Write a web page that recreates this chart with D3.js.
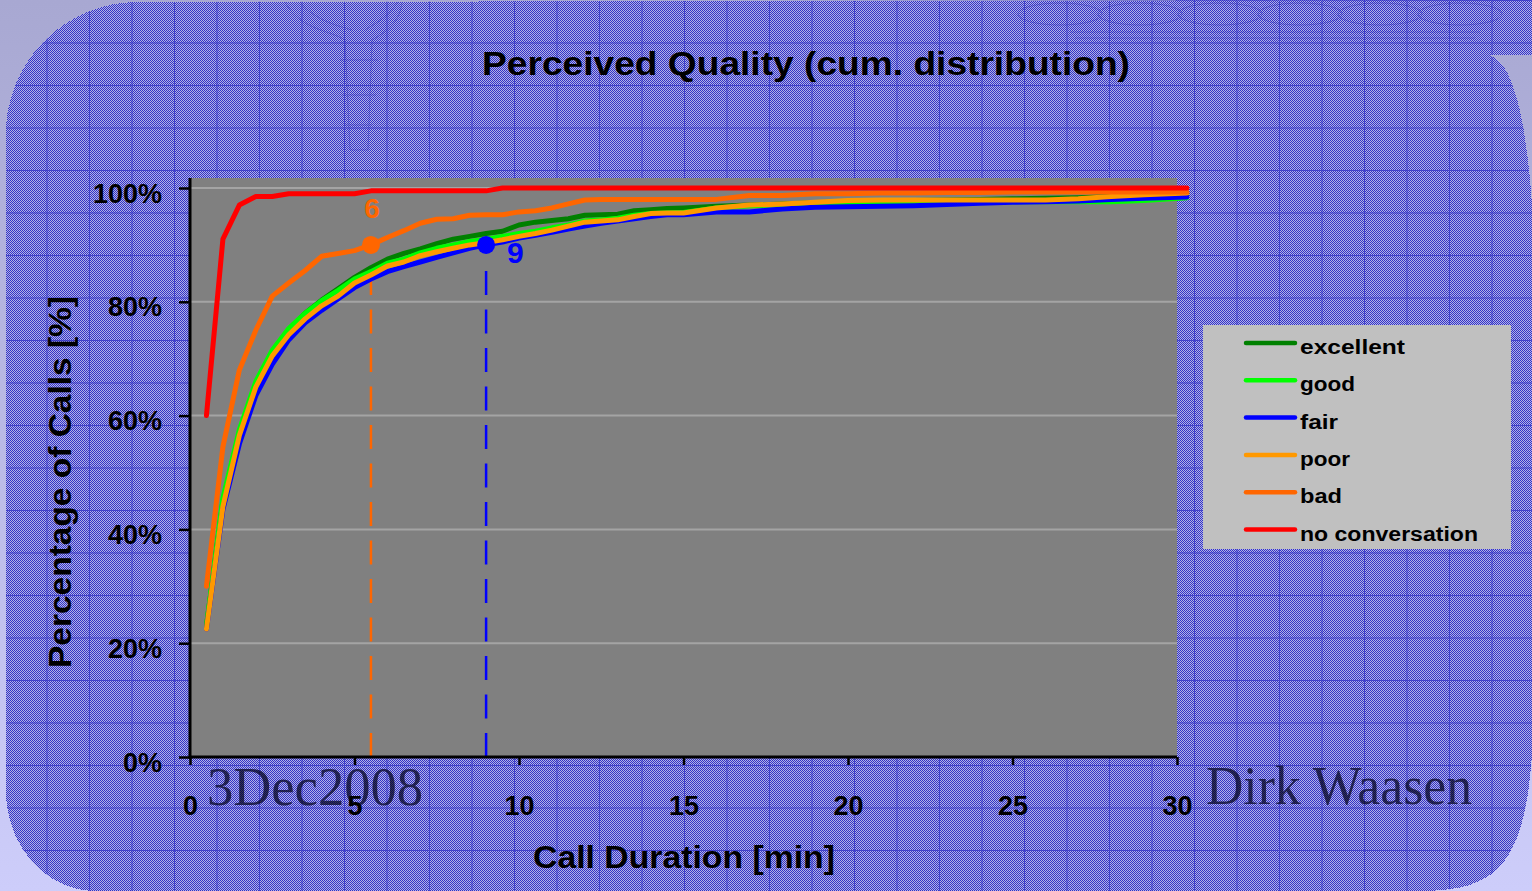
<!DOCTYPE html>
<html><head><meta charset="utf-8">
<script src="https://cdn.jsdelivr.net/npm/d3@7"></script>
<style>html,body{margin:0;padding:0;background:#aaaad4;overflow:hidden}</style>
</head><body><svg id="chart" width="1532" height="891"></svg>
<script>
// ---------------- data ----------------
const minutes = [0.5,1,1.5,2,2.5,3,3.5,4,4.5,5,5.5,6,6.5,7,7.5,8,8.5,9,9.5,10,10.5,11,11.5,12,12.5,13,13.5,14,14.5,15,16,17,18,19,20,21,22,23,24,25,26,27,28,29,30.3];
const excellent = [23,45,57,65.5,71,75,78,80.3,82.3,84.3,86,87.5,88.5,89.3,90.2,91,91.5,92,92.4,93.5,94,94.3,94.6,95.2,95.3,95.4,96,96.2,96.4,96.5,96.8,97,97.2,97.4,97.6,97.7,97.8,97.9,98,98.1,98.2,98.3,98.5,98.7,99];
const good      = [23,45.5,57.5,66,71.5,75.3,78,80.2,82,84,85.3,86.8,87.5,88.6,89.4,90,90.6,91,91.5,92,92.4,93,93.5,94.2,94.4,94.7,95.2,95.5,95.6,95.7,96.5,96.9,97.1,97.3,97.5,97.6,97.6,97.6,97.6,97.6,97.6,97.6,97.6,97.8,98.3];
const fair      = [22.5,43.5,55,63.5,69,73.3,76.3,78.5,80.5,82.5,84,85.3,86.2,87,87.8,88.6,89.4,90,90.5,91.2,91.7,92.2,92.8,93.3,93.8,94.2,94.6,95,95.3,95.3,95.8,95.8,96.3,96.6,96.7,96.8,96.9,97.1,97.3,97.5,97.6,97.7,98,98.2,98.4];
const poor      = [22.5,44,56.5,65,70.5,74.2,77,79.3,81,83.3,84.7,86.3,87,88.1,88.8,89.4,90,90.4,90.9,91.5,92,92.6,93.3,94,94.2,94.4,95,95.5,95.6,95.6,96.5,97,97.2,97.5,97.8,97.9,97.9,97.9,97.9,97.9,97.9,98.1,98.5,98.8,99.1];
const bad       = [30,54.5,68,75,81,83.3,85.5,88,88.5,89,90,91.3,92.5,93.8,94.5,94.6,95.2,95.3,95.3,95.8,96,96.5,97.2,97.9,98,98,98,98,98,98,98,98.7,98.7,99,99,99.1,99.1,99.2,99.2,99.3,99.3,99.3,99.3,99.3,99.3];
const noConversation = [60,91,97,98.5,98.5,99,99,99,99,99,99.5,99.5,99.5,99.5,99.5,99.5,99.5,99.5,100,100,100,100,100,100,100,100,100,100,100,100,100,100,100,100,100,100,100,100,100,100,100,100,100,100,100];

const seriesNames  = ["excellent","good","fair","poor","bad","no conversation"];
const seriesColors = ["#008000","#00ff00","#0000ff","#ff9900","#ff6600","#ff0000"];
const seriesValues = [excellent, good, fair, poor, bad, noConversation];
const legendTextWidths = [105, 55, 38, 50, 42, 178];

const xTicks = [0,5,10,15,20,25,30];
const yTicks = [0,20,40,60,80,100];
const gridTicks = [20,40,60,80,100];

const markerMinutes = [5.5, 9];
const markerPercent = [90, 90];
const markerLabels  = ["6", "9"];
const markerColors  = ["#ff6600", "#0000ff"];

const titleText = "Perceived Quality (cum. distribution)";
const xTitle = "Call Duration [min]";
const yTitle = "Percentage of Calls [%]";
const watermarkLeft = "3Dec2008";
const watermarkRight = "Dirk Waasen";

// ---------------- drawing ----------------
const W = 1532, H = 891;
const svg = d3.select("#chart");
const defs = svg.append("defs");
const FONT = "'Liberation Sans', Arial, sans-serif";

const og = defs.append("linearGradient").attr("id","outside").attr("x1",0).attr("y1",0).attr("x2",0).attr("y2",1);
og.append("stop").attr("offset","0%").attr("stop-color","#a8a8d2");
og.append("stop").attr("offset","100%").attr("stop-color","#cdcdfa");

const chk = defs.append("pattern").attr("id","checker").attr("patternUnits","userSpaceOnUse").attr("width",2).attr("height",2);
chk.append("rect").attr("width",2).attr("height",2).attr("fill","#b2b2e4");
chk.append("rect").attr("x",0).attr("y",0).attr("width",1).attr("height",1).attr("fill","#3232c8");
chk.append("rect").attr("x",1).attr("y",1).attr("width",1).attr("height",1).attr("fill","#3232c8");

const grd = defs.append("pattern").attr("id","bggrid").attr("patternUnits","userSpaceOnUse")
  .attr("width",42.5).attr("height",42.5).attr("x",4).attr("y",0);
grd.append("path").attr("d","M0,0.5 H42.5 M0.5,0 V42.5").attr("stroke","#3434c6").attr("stroke-width",1).attr("fill","none").attr("opacity",0.8);

svg.append("rect").attr("width",W).attr("height",H).attr("fill","url(#outside)");

const shape = "M6,140 A132,132 0 0 1 138,2 L1532,0 L1532,55 L1488,55 Q1526,62 1534,240 L1534,700 C1532,860 1505,891 1420,891 L95,891 A90,100 0 0 1 6,791 Z";
svg.append("path").attr("d",shape).attr("fill","url(#checker)").attr("shape-rendering","crispEdges");
svg.append("path").attr("d",shape).attr("fill","url(#bggrid)");

// faint decorative shapes at the top
const deco = svg.append("g").attr("fill","none").attr("stroke","#2a2ab8").attr("stroke-width",1).attr("opacity",0.35);
deco.append("path").attr("d","M285,2 C300,30 330,30 345,40 L350,150 L368,150 L372,40 C390,30 400,20 402,2");
deco.append("path").attr("d","M300,2 C315,20 335,25 352,30 M398,2 C385,20 372,25 365,30");
deco.append("path").attr("d","M340,60 L378,60 M342,95 L376,95 M345,125 L372,125");
[1060,1140,1220,1300,1380,1460].forEach(cx=>{
  deco.append("ellipse").attr("cx",cx).attr("cy",14).attr("rx",42).attr("ry",11);
});
deco.append("path").attr("d","M1070,32 H1480 M1075,38 H1475");

// scales
const x = d3.scaleLinear().domain([0,30]).range([190,1177]);
const y = d3.scaleLinear().domain([0,100]).range([757,188]);
const plotTop = y(100) - 10;

// plot background
svg.append("rect").attr("x",x(0)).attr("y",plotTop).attr("width",x(30)-x(0)).attr("height",y(0)-plotTop).attr("fill","#808080");

// gridlines
svg.append("g").selectAll("line").data(gridTicks).join("line")
  .attr("x1",x(0)).attr("x2",x(30)).attr("y1",d=>y(d)).attr("y2",d=>y(d))
  .attr("stroke","#a4a4a4").attr("stroke-width",2);

// watermarks
svg.append("text").attr("x",207).attr("y",805).attr("font-family","'Liberation Serif','Times New Roman',serif")
  .attr("font-size",54).attr("fill","#000018").attr("opacity",0.7)
  .attr("textLength",216).attr("lengthAdjust","spacingAndGlyphs").text(watermarkLeft);
svg.append("text").attr("x",1206).attr("y",804).attr("font-family","'Liberation Serif','Times New Roman',serif")
  .attr("font-size",54).attr("fill","#000018").attr("opacity",0.7)
  .attr("textLength",266).attr("lengthAdjust","spacingAndGlyphs").text(watermarkRight);

// dashed marker lines
markerMinutes.forEach((m,i)=>{
  svg.append("line").attr("x1",x(m)).attr("x2",x(m)).attr("y1",y(markerPercent[i])+26).attr("y2",y(0))
    .attr("stroke",markerColors[i]).attr("stroke-width",2.5).attr("stroke-dasharray","24,14.5");
});

// series lines
const line = d3.line().x((d,i)=>x(minutes[i])).y(d=>y(d));
seriesValues.forEach((vals,i)=>{
  svg.append("path").attr("d",line(vals)).attr("fill","none").attr("stroke",seriesColors[i])
    .attr("stroke-width",5).attr("stroke-linejoin","round").attr("stroke-linecap","round");
});

// markers
markerMinutes.forEach((m,i)=>{
  svg.append("circle").attr("cx",x(m)).attr("cy",y(markerPercent[i])).attr("r",9).attr("fill",markerColors[i]);
});
svg.append("text").attr("x",x(markerMinutes[0])+1).attr("y",y(markerPercent[0])-27).attr("text-anchor","middle")
  .attr("font-family",FONT).attr("font-weight","bold").attr("font-size",28).attr("fill",markerColors[0]).text(markerLabels[0]);
svg.append("text").attr("x",x(markerMinutes[1])+21).attr("y",y(markerPercent[1])+18).attr("text-anchor","start")
  .attr("font-family",FONT).attr("font-weight","bold").attr("font-size",30).attr("fill",markerColors[1]).text(markerLabels[1]);

// axes
const yAxis = d3.axisLeft(y).tickValues(yTicks).tickFormat(d=>d+"%").tickSize(11).tickSizeOuter(0).tickPadding(17);
const ya = svg.append("g").attr("transform",`translate(${x(0)},0)`).call(yAxis);
ya.select(".domain").remove();
ya.selectAll(".tick line").attr("stroke","#000").attr("stroke-width",2.5);
ya.selectAll(".tick text").attr("font-family",FONT).attr("font-weight","bold").attr("font-size",27)
  .attr("fill","#000").attr("dy","0.52em");

const xAxis = d3.axisBottom(x).tickValues(xTicks).tickSize(8).tickSizeOuter(0).tickPadding(31);
const xa = svg.append("g").attr("transform",`translate(0,${y(0)})`).call(xAxis);
xa.select(".domain").remove();
xa.selectAll(".tick line").attr("stroke","#000").attr("stroke-width",2.5);
xa.selectAll(".tick text").attr("font-family",FONT).attr("font-weight","bold").attr("font-size",27).attr("fill","#000");

svg.append("line").attr("x1",x(0)).attr("x2",x(0)).attr("y1",plotTop).attr("y2",y(0)+1.5).attr("stroke","#000").attr("stroke-width",3);
svg.append("line").attr("x1",x(0)-1.5).attr("x2",x(30)).attr("y1",y(0)).attr("y2",y(0)).attr("stroke","#000").attr("stroke-width",3);

// titles
svg.append("text").attr("x",806).attr("y",75).attr("text-anchor","middle").attr("font-family",FONT)
  .attr("font-weight","bold").attr("font-size",34).attr("fill","#000")
  .attr("textLength",648).attr("lengthAdjust","spacingAndGlyphs").text(titleText);
svg.append("text").attr("x",684).attr("y",868).attr("text-anchor","middle").attr("font-family",FONT)
  .attr("font-weight","bold").attr("font-size",31).attr("fill","#000")
  .attr("textLength",302).attr("lengthAdjust","spacingAndGlyphs").text(xTitle);
svg.append("text").attr("transform","translate(71,482) rotate(-90)").attr("text-anchor","middle").attr("font-family",FONT)
  .attr("font-weight","bold").attr("font-size",31).attr("fill","#000")
  .attr("textLength",372).attr("lengthAdjust","spacingAndGlyphs").text(yTitle);

// legend
const lg = svg.append("g");
lg.append("rect").attr("x",1203).attr("y",325).attr("width",308).attr("height",224).attr("fill","#c0c0c0");
seriesNames.forEach((n,i)=>{
  const ly = 343 + i*37.3;
  lg.append("line").attr("x1",1246).attr("x2",1295).attr("y1",ly).attr("y2",ly)
    .attr("stroke",seriesColors[i]).attr("stroke-width",4.5).attr("stroke-linecap","round");
  lg.append("text").attr("x",1300).attr("y",ly+11).attr("font-family",FONT).attr("font-weight","bold")
    .attr("font-size",20).attr("fill","#000")
    .attr("textLength",legendTextWidths[i]).attr("lengthAdjust","spacingAndGlyphs").text(n);
});
</script></body></html>
